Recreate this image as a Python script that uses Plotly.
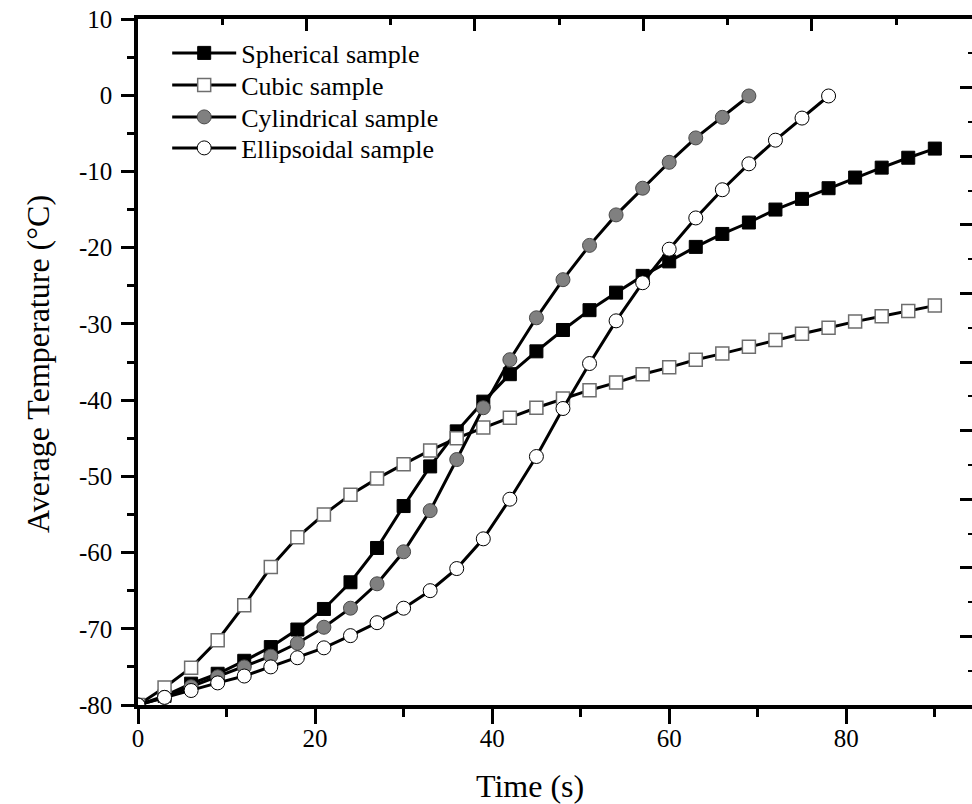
import plotly.graph_objects as go

t_sph = [0, 3, 6, 9, 12, 15, 18, 21, 24, 27, 30, 33, 36, 39, 42, 45, 48, 51, 54, 57, 60, 63, 66, 69, 72, 75, 78, 81, 84, 87, 90]
y_sph = [-80, -78.8, -77.2, -75.9, -74.2, -72.4, -70.1, -67.4, -63.9, -59.4, -53.9, -48.7, -44.1, -40.2, -36.6, -33.6, -30.8, -28.2, -25.9, -23.7, -21.8, -19.9, -18.2, -16.7, -15.0, -13.6, -12.2, -10.8, -9.5, -8.2, -7.0]

t_cub = [0, 3, 6, 9, 12, 15, 18, 21, 24, 27, 30, 33, 36, 39, 42, 45, 48, 51, 54, 57, 60, 63, 66, 69, 72, 75, 78, 81, 84, 87, 90]
y_cub = [-80, -77.7, -75.1, -71.5, -66.9, -61.9, -58.0, -55.0, -52.4, -50.3, -48.4, -46.6, -45.0, -43.6, -42.3, -41.0, -39.8, -38.7, -37.7, -36.6, -35.7, -34.7, -33.9, -33.0, -32.1, -31.3, -30.5, -29.7, -29.0, -28.3, -27.6]

t_cyl = [0, 3, 6, 9, 12, 15, 18, 21, 24, 27, 30, 33, 36, 39, 42, 45, 48, 51, 54, 57, 60, 63, 66, 69]
y_cyl = [-80, -79.0, -77.6, -76.3, -75.0, -73.6, -71.9, -69.8, -67.3, -64.1, -59.9, -54.5, -47.8, -41.0, -34.7, -29.2, -24.2, -19.7, -15.7, -12.2, -8.8, -5.6, -2.9, -0.1]

t_ell = [0, 3, 6, 9, 12, 15, 18, 21, 24, 27, 30, 33, 36, 39, 42, 45, 48, 51, 54, 57, 60, 63, 66, 69, 72, 75, 78]
y_ell = [-80, -79.0, -78.1, -77.1, -76.2, -75.0, -73.8, -72.5, -70.9, -69.2, -67.3, -65.0, -62.1, -58.2, -53.0, -47.4, -41.1, -35.2, -29.6, -24.6, -20.2, -16.1, -12.4, -9.0, -5.9, -3.0, -0.1]

names = ["Spherical sample", "Cubic sample", "Cylindrical sample", "Ellipsoidal sample"]
x_ticks = [0, 20, 40, 60, 80]
x_ticktext = ["0", "20", "40", "60", "80"]
y_ticks = [10, 0, -10, -20, -30, -40, -50, -60, -70, -80]
y_ticktext = ["10", "0", "-10", "-20", "-30", "-40", "-50", "-60", "-70", "-80"]

FONT = "Liberation Serif, Times New Roman, serif"

fig = go.Figure()
series = [
    (t_sph, y_sph, names[0], dict(symbol="square", size=13, color="black", line=dict(color="black", width=1))),
    (t_cub, y_cub, names[1], dict(symbol="square", size=13, color="white", line=dict(color="#6e6e6e", width=1.5))),
    (t_cyl, y_cyl, names[2], dict(symbol="circle", size=14, color="#808080", line=dict(color="#4a4a4a", width=1))),
    (t_ell, y_ell, names[3], dict(symbol="circle", size=14, color="white", line=dict(color="black", width=1))),
]
legend_ids = ["legend", "legend2", "legend3", "legend4"]
for (xs, ys, nm, mk), lg in zip(series, legend_ids):
    fig.add_trace(go.Scatter(x=xs, y=ys, name=nm, mode="lines+markers", legend=lg,
                             line=dict(color="black", width=3), marker=mk))

# helper (empty) trace so the mirrored top/right axes are drawn
fig.add_trace(go.Scatter(x=[None], y=[None], xaxis="x2", yaxis="y2",
                         showlegend=False, hoverinfo="skip"))

row_px = [53, 85, 117, 148]
def leg(py):
    return dict(x=0.035, y=(705 - py) / 686, xanchor="left", yanchor="middle",
                bgcolor="rgba(0,0,0,0)", font=dict(size=26, family=FONT, color="black"),
                itemwidth=64)

tick_common = dict(tickcolor="black", tickwidth=3, showgrid=False, zeroline=False)

fig.update_layout(
    width=972, height=804,
    margin=dict(l=138, r=0, t=19, b=99),
    paper_bgcolor="white", plot_bgcolor="white",
    font=dict(family=FONT, size=25, color="black"),
    showlegend=True,
    legend=leg(row_px[0]), legend2=leg(row_px[1]), legend3=leg(row_px[2]), legend4=leg(row_px[3]),
    xaxis=dict(range=[0, 94.2], tickvals=x_ticks, ticktext=x_ticktext, ticks="outside", ticklen=15,
               showline=True, linewidth=3.5, linecolor="black", ticklabelstandoff=-7,
               tickfont=dict(size=25, family=FONT),
               minor=dict(dtick=10, ticklen=8, tickwidth=3, tickcolor="black", ticks="outside", showgrid=False),
               **tick_common),
    yaxis=dict(range=[-80, 10], tickvals=y_ticks, ticktext=y_ticktext, ticks="outside", ticklen=13,
               showline=True, linewidth=3.5, linecolor="black", ticklabelstandoff=4,
               tickfont=dict(size=25, family=FONT),
               minor=dict(dtick=5, ticklen=7, tickwidth=3, tickcolor="black", ticks="outside", showgrid=False),
               **tick_common),
    xaxis2=dict(overlaying="x", side="top", anchor="y", range=[0, 99], dtick=20, tick0=0,
                ticks="inside", ticklen=12, showline=True, linewidth=3.5, linecolor="black",
                showticklabels=False,
                minor=dict(dtick=10, ticklen=6, tickwidth=3, tickcolor="black", ticks="inside", showgrid=False),
                **tick_common),
    yaxis2=dict(overlaying="y", side="right", anchor="x", range=[0, 100], dtick=10, tick0=0,
                ticks="inside", ticklen=12, showline=False, showticklabels=False,
                minor=dict(dtick=5, ticklen=4, tickwidth=2, tickcolor="black", ticks="inside", showgrid=False),
                **tick_common),
    annotations=[
        dict(text="Time (s)", xref="paper", yref="paper", x=(530 - 138) / 834, y=(705 - 786) / 686,
             xanchor="center", yanchor="middle", showarrow=False, font=dict(size=32, family=FONT)),
        dict(text="Average Temperature (°C)", xref="paper", yref="paper", x=(38 - 138) / 834, y=0.497,
             xanchor="center", yanchor="middle", textangle=-90, showarrow=False,
             font=dict(size=32, family=FONT)),
    ],
)

fig.write_html("out.html")
